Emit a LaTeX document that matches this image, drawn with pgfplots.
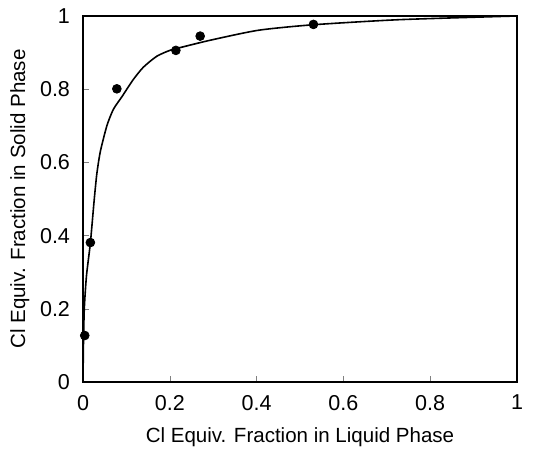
\documentclass[border=0pt]{standalone}
\usepackage{pgfplots}
\pgfplotsset{compat=1.18}
\usepackage{fontspec}
\setmainfont{Liberation Sans}
\begin{document}
\fontsize{10}{12}\selectfont
\begin{tikzpicture}
\begin{axis}[name=ax,
  width=217bp, height=183bp, scale only axis,
  xmin=0, xmax=1, ymin=0, ymax=1,
  xtick={0,0.2,0.4,0.6,0.8,1}, ytick={0,0.2,0.4,0.6,0.8,1},
  xticklabels={0,0.2,0.4,0.6,0.8,1},
  yticklabels={0,0.2,0.4,0.6,0.8,1},
  tick align=inside, tick pos=left, major tick length=3bp,
  axis line style={line width=0.6pt},
  /pgf/number format/assume math mode=true,
  xlabel={Cl Equiv. Fraction in Liquid Phase},
  ylabel={Cl Equiv. Fraction in Solid Phase},
  xlabel style={yshift=-2bp, font=\fontsize{10.3}{12}\selectfont},
  ylabel style={yshift=-1.5bp, font=\fontsize{10.3}{12}\selectfont},
  xticklabel style={yshift=-3bp},
  yticklabel style={xshift=-3bp},
  every tick label/.append style={font=\fontsize{10.8}{12}\selectfont},
]
\addplot[black, line width=0.8pt, smooth, tension=0.4] coordinates {
(0,0) (0.001,0.1) (0.003,0.2) (0.008,0.29) (0.017,0.38) (0.026,0.5) (0.032,0.57)
(0.04,0.63) (0.055,0.70) (0.07,0.745) (0.09,0.78) (0.115,0.825) (0.139,0.86)
(0.17,0.89) (0.2,0.906) (0.225,0.914) (0.294,0.934) (0.404,0.961) (0.53,0.976)
(0.73,0.99) (1,1)};
\addplot[only marks, mark=*, mark size=2.2pt, black] coordinates {
(0.004,0.127) (0.017,0.381) (0.078,0.801) (0.214,0.906) (0.270,0.945) (0.531,0.977)};
\end{axis}
\path[use as bounding box] ([xshift=-41.5bp,yshift=-32bp]ax.south west) rectangle ([xshift=12.5bp,yshift=8bp]ax.north east);
\end{tikzpicture}
\end{document}
